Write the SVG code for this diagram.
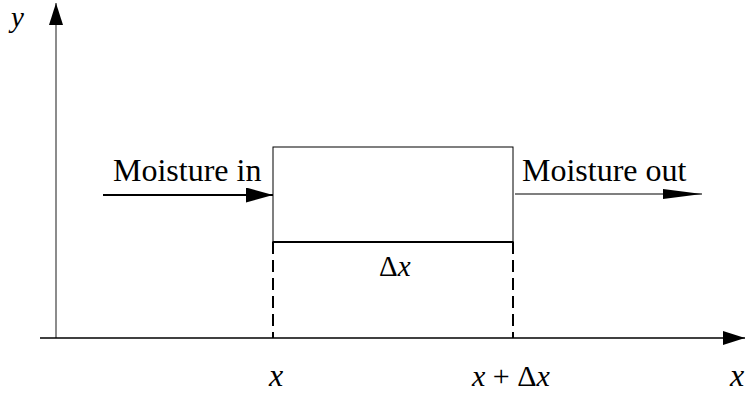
<svg xmlns="http://www.w3.org/2000/svg" width="745" height="398" viewBox="0 0 745 398">
<style>
text{font-family:"Liberation Serif","Times New Roman",serif;fill:#000}
.lbl{font-size:32px}
.it{font-style:italic}
.ln{stroke:#000;fill:none}
</style>
<defs>
<marker id="ah" markerUnits="userSpaceOnUse" markerWidth="30" markerHeight="15" refX="27" refY="7.5" orient="auto">
<path d="M0,0 L27,7.5 L0,15 Z" fill="#000"/>
</marker>
<marker id="ahn" markerUnits="userSpaceOnUse" markerWidth="40" markerHeight="10" refX="39" refY="5" orient="auto">
<path d="M0,0 L39,5 L0,10 Z" fill="#000"/>
</marker>
<marker id="axy" markerUnits="userSpaceOnUse" markerWidth="22" markerHeight="14" refX="22" refY="7" orient="auto">
<path d="M0,0 L22,7 L0,14 Z" fill="#000"/>
</marker>
</defs>
<g id="axes">
<line x1="56" y1="338" x2="56" y2="3" stroke="#666" stroke-width="1.5" marker-end="url(#axy)"/>
<line x1="40" y1="338" x2="745" y2="338" class="ln" stroke-width="1.5" marker-end="url(#axy)"/>
<text x="11" y="27" class="it" style="font-size:29px">y</text>
<text x="730" y="386" class="it" style="font-size:32px">x</text>
</g>
<g id="box">
<rect x="273" y="147" width="240" height="95" class="ln" stroke-width="1"/>
<line x1="272.5" y1="242" x2="513.5" y2="242" class="ln" stroke-width="2"/>
<text x="379" y="276" style="font-size:29px">Δ<tspan class="it">x</tspan></text>
</g>
<g id="dashes">
<line x1="273" y1="242" x2="273" y2="338" class="ln" stroke-width="2" stroke-dasharray="12,6"/>
<line x1="513" y1="242" x2="513" y2="338" class="ln" stroke-width="2" stroke-dasharray="12,6"/>
<text x="269" y="386" class="it" style="font-size:32px">x</text>
<text x="472" y="386" style="font-size:30px"><tspan class="it">x</tspan> + Δ<tspan class="it">x</tspan></text>
</g>
<g id="connectors">
<line x1="103" y1="195" x2="273" y2="195" class="ln" stroke-width="2" marker-end="url(#ah)"/>
<line x1="515" y1="194" x2="702" y2="194" class="ln" stroke-width="1.2" marker-end="url(#ahn)"/>
</g>
<g id="labels">
<text x="113" y="181" class="lbl">Moisture in</text>
<text x="522" y="181" class="lbl">Moisture out</text>
</g>
</svg>
